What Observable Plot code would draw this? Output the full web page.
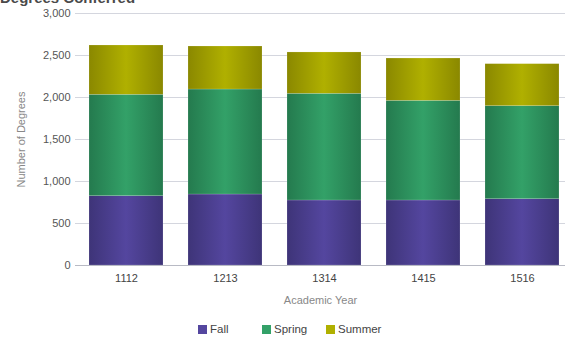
<!DOCTYPE html>
<html>
<head>
<meta charset="utf-8">
<script src="https://cdn.jsdelivr.net/npm/d3@7"></script>
<script src="https://cdn.jsdelivr.net/npm/@observablehq/plot@0.6"></script>
<style>
  html, body { margin: 0; padding: 0; background: #fff; overflow: hidden; }
  body { width: 565px; height: 337px; position: relative; font-family: "Liberation Sans", Arial, sans-serif; }
  #title { position: absolute; left: 0; top: -11px; font-size: 15px; font-weight: bold; color: #4a4a4a; white-space: nowrap; }
  #chart { position: absolute; left: 0; top: 0; }
  #legend { position: absolute; top: 323px; left: 198px; display: flex; font-size: 11.5px; color: #444; }
  .item { width: 64px; display: flex; align-items: center; }
  .sw { width: 9px; height: 9px; margin-right: 3px; }
</style>
</head>
<body>
<div id="title">Degrees Conferred</div>
<div id="chart"></div>
<div id="legend"></div>
<script>
const years = ["1112", "1213", "1314", "1415", "1516"];
const seasons = ["Fall", "Spring", "Summer"];
const fall = [825, 845, 774, 774, 789];
const spring = [1207, 1250, 1270, 1186, 1108];
const summer = [587, 512, 492, 504, 500];
const yTicks = [0, 500, 1000, 1500, 2000, 2500, 3000];
const centerColors = ["#54469f", "#33a168", "#b0b000"];
const edgeColors = ["#3e3478", "#247a4e", "#8a8800"];

const series = [fall, spring, summer];
const data = [];
seasons.forEach((s, si) => years.forEach((y, yi) => data.push({year: y, season: s, value: series[si][yi]})));

const gradIds = seasons.map(s => "grad" + s);
const fmt = d3.format(",d");

const plot = Plot.plot({
  width: 565,
  height: 310,
  marginLeft: 75,
  marginRight: 0,
  marginTop: 13,
  marginBottom: 45,
  style: {fontFamily: "Liberation Sans, Arial, sans-serif", fontSize: "11px", color: "#555", background: "transparent"},
  x: {domain: years, paddingInner: 0.257, paddingOuter: 0.09, align: 0.68, label: "Academic Year", labelAnchor: "center"},
  y: {domain: [0, 3000], ticks: yTicks, tickFormat: fmt, label: "Number of Degrees", labelAnchor: "center"},
  color: {domain: seasons, range: gradIds.map(id => `url(#${id})`)},
  marks: [
    Plot.gridY(yTicks, {stroke: "#d4d6de", strokeOpacity: 1, strokeWidth: 1}),
    Plot.barY(data, {x: "year", y: "value", fill: "season", stroke: "#ffffff", strokeOpacity: 0.25, strokeWidth: 0.6}),
    Plot.ruleY([0], {stroke: "#b8bac4"}),
    Plot.axisY(yTicks, {tickSize: 0, tickPadding: 5, tickFormat: fmt, fill: "#555", label: "Number of Degrees", labelAnchor: "center", labelOffset: 58, labelArrow: "none"}),
    Plot.axisX({tickSize: 0, tickPadding: 9, fill: "#444", label: "Academic Year", labelAnchor: "center", labelOffset: 38, labelArrow: "none"})
  ]
});

// gradients
const svgNS = "http://www.w3.org/2000/svg";
const defs = document.createElementNS(svgNS, "defs");
seasons.forEach((s, i) => {
  const g = document.createElementNS(svgNS, "linearGradient");
  g.setAttribute("id", gradIds[i]);
  g.setAttribute("x1", "0"); g.setAttribute("x2", "1"); g.setAttribute("y1", "0"); g.setAttribute("y2", "0");
  [[0, edgeColors[i]], [0.5, centerColors[i]], [1, edgeColors[i]]].forEach(([o, c]) => {
    const st = document.createElementNS(svgNS, "stop");
    st.setAttribute("offset", o);
    st.setAttribute("stop-color", c);
    g.appendChild(st);
  });
  defs.appendChild(g);
});
plot.insertBefore(defs, plot.firstChild);
plot.querySelectorAll("[aria-label='y-axis label'], [aria-label='x-axis label']").forEach(el => el.setAttribute("fill", "#888"));
document.getElementById("chart").appendChild(plot);

const legend = document.getElementById("legend");
seasons.forEach((s, i) => {
  const it = document.createElement("div");
  it.className = "item";
  const sw = document.createElement("div");
  sw.className = "sw";
  sw.style.background = centerColors[i];
  const t = document.createElement("span");
  t.textContent = s;
  it.appendChild(sw); it.appendChild(t);
  legend.appendChild(it);
});
</script>
</body>
</html>
